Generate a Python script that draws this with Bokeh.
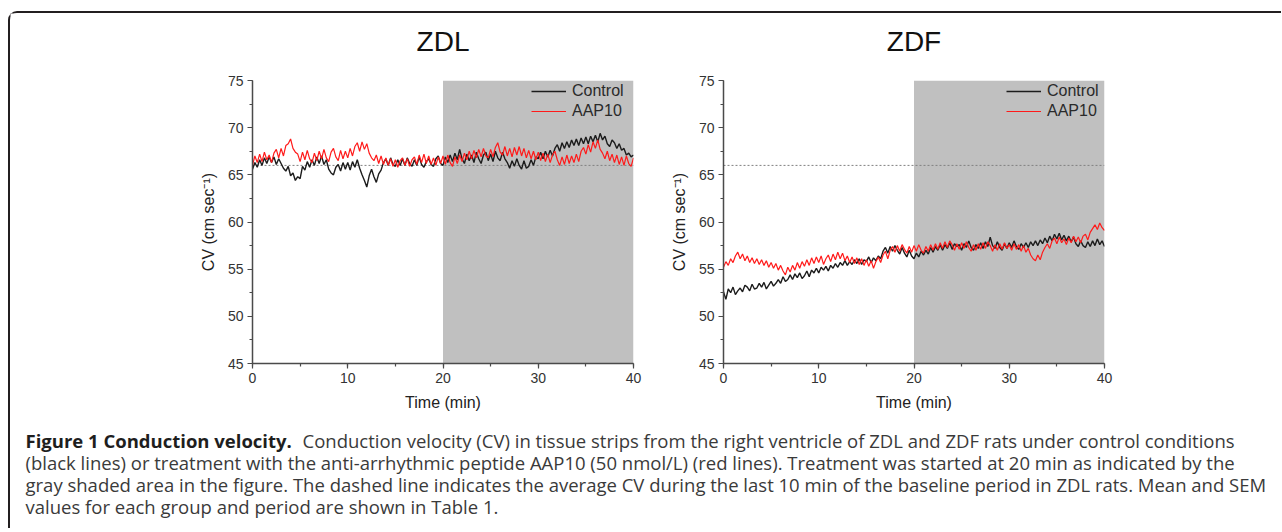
from bokeh.plotting import figure
from bokeh.models import (Range1d, BoxAnnotation, Span, Label, Legend, LegendItem,
                          SingleIntervalTicker)
from bokeh.layouts import row, column
from bokeh.embed import file_html
from bokeh.resources import INLINE

# ---------------- data (0.25 min resolution) ----------------
time_min = [i * 0.25 for i in range(161)]

zdl_control = [
    65.6, 66.3, 65.8, 66.6,  66.0, 66.8, 66.2, 66.9,  66.3, 66.9, 66.1, 66.7,
    66.2, 65.7, 65.4, 65.9,  64.9, 65.2, 64.4, 64.8,  64.6, 65.9, 65.5, 66.4,
    65.8, 66.6, 66.0, 66.9,  66.2, 67.0, 66.1, 66.6,  65.6, 65.2, 65.0, 65.8,
    66.1, 65.4, 66.3, 65.6,  66.3, 65.5, 66.4, 65.8,  66.6, 65.7, 65.0, 64.4,
    63.7, 64.9, 65.6, 64.8,  64.2, 65.1, 65.5, 66.3,  66.7, 66.0, 66.8, 66.1,
    65.9, 66.6, 66.0, 66.7,  66.0, 66.8, 66.2, 65.9,  66.6, 66.0, 66.9, 66.1,
    65.8, 66.4, 66.7, 66.1,  65.9, 66.7, 67.0, 66.2,  66.0, 66.9, 66.3, 67.1,
    66.4, 67.3, 66.6, 67.7,  66.7, 66.2, 67.2, 66.5,  67.1, 66.3, 67.4, 66.7,
    66.2, 67.1, 67.4, 66.5,  67.2, 66.4, 67.5, 66.8,  66.5, 67.4, 66.7, 66.3,
    65.7, 66.5, 65.9, 66.7,  66.0, 65.6, 66.5, 65.7,  65.9, 66.6, 66.0, 66.9,
    66.7, 67.4, 66.7, 67.5,  66.9, 67.6, 67.0, 67.8,  68.2, 67.5, 68.4, 67.8,
    68.5, 67.9, 68.7, 68.1,  68.8, 68.1, 68.9, 68.3,  69.0, 68.3, 69.1, 68.5,
    69.2, 68.5, 69.4, 68.7,  69.1, 68.3, 68.0, 68.7,  68.4, 67.8, 68.3, 67.6,
    67.8, 67.1, 67.3, 66.9,  67.1,
]

zdl_aap10 = [
    66.0, 67.0, 66.3, 67.2,  66.4, 67.4, 66.6, 67.1,  66.3, 67.3, 67.7, 66.8,
    67.8, 67.0, 68.1, 68.3,  68.8, 67.8, 67.4, 67.2,  66.4, 67.4, 66.6, 67.6,
    66.7, 66.3, 67.3, 66.5,  67.5, 66.7, 67.7, 66.8,  66.4, 67.4, 67.8, 66.9,
    66.5, 67.6, 66.7, 67.5,  66.8, 67.8, 67.0, 68.0,  68.4, 67.5, 68.5, 67.7,
    68.3, 67.3, 66.8, 66.5,  67.1, 66.2, 67.0, 66.1,  66.8, 66.0, 66.7, 65.9,
    66.6, 65.8, 66.5, 66.8,  66.0, 66.7, 65.9, 66.6,  66.9, 66.1, 67.1, 66.3,
    67.2, 66.2, 67.0, 66.1,  66.8, 66.0, 66.9, 66.2,  67.0, 66.1, 67.1, 66.3,
    65.9, 66.9, 66.2, 67.1,  66.4, 67.3, 66.6, 67.5,  66.7, 67.6, 66.8, 67.7,
    66.9, 67.8, 67.0, 66.8,  67.7, 66.9, 67.9, 68.4,  67.4, 67.1, 68.0, 67.0,
    67.8, 66.9, 67.9, 67.1,  68.0, 67.0, 67.8, 66.8,  67.6, 66.7, 67.5, 66.6,
    67.4, 66.5, 67.3, 66.4,  67.2, 66.3, 67.1, 67.5,  66.6, 66.0, 66.9, 66.1,
    67.1, 66.2, 67.0, 66.3,  67.2, 66.4, 67.5, 67.9,  67.2, 68.2, 67.4, 68.5,
    67.8, 68.7, 67.7, 67.3,  66.7, 67.5, 66.5, 67.2,  66.3, 67.1, 66.1, 66.9,
    66.0, 67.0, 66.2, 65.9,  66.8,
]

zdf_control = [
    52.6, 51.8, 52.9, 52.5,  53.1, 52.3, 52.7, 53.0,  52.6, 53.3, 53.1, 52.7,
    53.4, 52.9, 53.0, 53.5,  53.1, 53.6, 52.9, 53.3,  53.7, 53.2, 53.5, 53.9,
    53.5, 54.2, 53.7, 53.9,  54.4, 53.9, 54.5, 54.1,  54.6, 54.0, 54.3, 54.8,
    54.2, 54.9, 54.6, 55.1,  54.6, 55.2, 54.9, 55.3,  54.8, 55.4, 55.1, 55.6,
    55.2, 55.7, 55.4, 55.9,  55.4, 55.8, 55.5, 56.0,  55.6, 56.1, 55.5, 56.0,
    55.8, 56.3, 55.7, 56.2,  55.9, 56.4, 56.1, 56.9,  57.3, 56.7, 57.4, 56.9,
    57.5, 57.0, 56.6, 57.3,  56.7, 56.3, 57.0, 56.4,  56.1, 56.7, 56.3, 56.9,
    56.5, 57.0, 56.6, 57.3,  56.8, 57.4, 57.0, 57.6,  57.0, 57.6, 57.2, 57.8,
    57.1, 57.7, 57.4, 57.6,  57.0, 57.7, 57.3, 58.0,  57.3, 57.0, 57.6, 57.2,
    57.8, 57.2, 57.9, 57.4,  58.4, 57.5, 57.2, 57.9,  57.3, 57.0, 57.7, 57.2,
    57.8, 57.3, 58.0, 57.4,  57.1, 57.7, 57.3, 57.8,  57.3, 57.9, 57.5, 58.0,
    57.5, 58.1, 57.7, 58.3,  57.8, 58.5, 58.0, 58.7,  58.2, 58.8, 58.1, 58.6,
    58.0, 58.5, 57.9, 58.4,  57.7, 57.4, 58.0, 57.5,  57.3, 57.9, 57.4, 58.0,
    57.5, 58.2, 57.6, 58.0,  57.4,
]

zdf_aap10 = [
    55.2, 55.8, 55.4, 56.1,  55.7, 56.4, 56.8, 56.1,  56.6, 55.9, 56.4, 55.7,
    56.2, 55.6, 56.1, 55.5,  56.0, 55.4, 55.9, 55.2,  55.7, 55.1, 55.6, 54.9,
    55.4, 54.8, 54.4, 55.2,  54.7, 55.4, 54.9, 55.7,  55.1, 55.8, 55.3, 56.0,
    55.4, 56.2, 55.6, 56.3,  55.7, 56.4, 55.5, 56.1,  56.5, 55.8, 56.6, 56.0,
    56.8, 56.1, 56.7, 55.9,  56.4, 55.7, 56.3, 55.6,  56.2, 55.5, 56.1, 55.4,
    56.0, 55.3, 55.9, 55.1,  55.8, 56.3, 55.7, 56.5,  56.9, 56.1, 57.0, 57.4,
    56.8, 57.5, 56.9, 57.6,  57.1, 56.7, 57.4, 56.8,  57.5, 56.9, 57.6, 57.0,
    56.7, 57.4, 56.9, 57.6,  57.0, 57.7, 57.1, 57.8,  57.2, 57.9, 57.3, 58.0,
    57.6, 57.0, 57.7, 57.1,  57.8, 57.2, 57.9, 57.3,  56.9, 57.6, 57.0, 57.7,
    57.1, 57.8, 57.2, 57.9,  57.5, 56.9, 57.6, 57.0,  57.7, 57.1, 57.8, 57.2,
    57.6, 57.0, 57.7, 57.1,  57.6, 56.9, 57.5, 56.8,  57.2, 56.5, 56.1, 55.9,
    56.5, 56.0, 56.8, 57.3,  57.7, 57.2, 58.0, 58.3,  57.7, 58.4, 57.8, 58.2,
    57.6, 58.3, 57.8, 58.5,  57.9, 58.4, 57.8, 58.5,  58.7, 58.1, 58.9, 59.3,
    59.7, 59.2, 59.9, 59.4,  59.1,
]

baseline_cv = 66.0           # mean CV, last 10 min of ZDL baseline (dashed line)
treatment_window = (20, 40)  # gray shaded area
panel_titles = ["ZDL", "ZDF"]
series_names = ["Control", "AAP10"]
x_label = "Time (min)"
y_label = "CV (cm sec\u207b\u00b9)"

caption_bold = "Figure 1 Conduction velocity."
caption_lines = [
    "Conduction velocity (CV) in tissue strips from the right ventricle of ZDL and ZDF rats under control conditions",
    "(black lines) or treatment with the anti-arrhythmic peptide AAP10 (50 nmol/L) (red lines). Treatment was started at 20 min as indicated by the",
    "gray shaded area in the figure. The dashed line indicates the average CV during the last 10 min of the baseline period in ZDL rats. Mean and SEM",
    "values for each group and period are shown in Table 1.",
]

# ---------------- styling ----------------
AX_COL = "#4a4a4a"
FONT = "Liberation Sans"
TITLE_H = 60
FIG_H = 403 - TITLE_H
FRAME_W, FRAME_H = 381, 283
TOTAL_W = 1264


def make_panel(control, aap10, width, left, right, legend_x):
    p = figure(width=width, height=FIG_H, x_range=Range1d(0, 40), y_range=Range1d(45, 75),
               output_backend="svg", toolbar_location=None, title=None,
               min_border_left=left, min_border_right=right,
               min_border_top=67 - TITLE_H, min_border_bottom=53)
    p.outline_line_color = None
    p.grid.visible = False
    p.background_fill_color = "white"
    p.border_fill_color = "white"

    p.add_layout(BoxAnnotation(left=treatment_window[0], right=treatment_window[1],
                               fill_color="#c0c0c0", fill_alpha=1.0, line_color=None,
                               level="underlay"))
    p.add_layout(Span(location=baseline_cv, dimension="width", line_color="#808080",
                      line_dash="2 2", line_width=1, level="underlay"))

    r_ctl = p.line(time_min, control, line_color="#1c1c1c", line_width=1.4)
    r_aap = p.line(time_min, aap10, line_color="#ff1a1a", line_width=1.2)

    legend = Legend(items=[LegendItem(label=series_names[0], renderers=[r_ctl]),
                           LegendItem(label=series_names[1], renderers=[r_aap])],
                    location=(legend_x, FRAME_H - 1 - 40),
                    background_fill_alpha=0, border_line_color=None,
                    padding=0, margin=0, spacing=0,
                    glyph_width=35, glyph_height=20, label_height=20,
                    label_standoff=6,
                    label_text_font=FONT, label_text_font_size="16px",
                    label_text_color="#2a2a2a")
    p.add_layout(legend)

    p.xaxis.ticker = SingleIntervalTicker(interval=10, num_minor_ticks=2)
    p.yaxis.ticker = SingleIntervalTicker(interval=5, num_minor_ticks=2)
    p.xaxis.axis_label = x_label
    p.yaxis.axis_label = y_label
    for ax in (p.xaxis, p.yaxis):
        ax.axis_line_color = AX_COL
        ax.axis_line_width = 1.5
        ax.major_tick_line_color = AX_COL
        ax.minor_tick_line_color = AX_COL
        ax.major_tick_line_width = 1.2
        ax.minor_tick_line_width = 1.2
        ax.major_tick_out = 5
        ax.major_tick_in = 0
        ax.minor_tick_out = 3
        ax.minor_tick_in = 0
        ax.major_label_standoff = 4
        ax.major_label_text_font = FONT
        ax.major_label_text_font_size = "14px"
        ax.major_label_text_color = "#333333"
        ax.axis_label_text_font = FONT
        ax.axis_label_text_font_size = "16px"
        ax.axis_label_text_font_style = "normal"
        ax.axis_label_text_color = "#222222"
        ax.axis_label_standoff = 8
    return p


P1_W, P1_LEFT = 640, 242
P2_LEFT = 73
p1 = make_panel(zdl_control, zdl_aap10, P1_W, P1_LEFT, P1_W - P1_LEFT - FRAME_W, 279)
p2 = make_panel(zdf_control, zdf_aap10, TOTAL_W - P1_W, P2_LEFT,
                TOTAL_W - P1_W - P2_LEFT - FRAME_W, 283)

# ---------------- panel titles (strip above the two panels) ----------------
strip = figure(width=TOTAL_W, height=TITLE_H, x_range=Range1d(0, 1), y_range=Range1d(0, 1),
               output_backend="svg", toolbar_location=None, min_border=0, title=None,
               x_axis_location=None, y_axis_location=None)
strip.grid.visible = False
strip.outline_line_color = None
strip.background_fill_color = "white"
strip.border_fill_color = "white"
title_centers = [P1_LEFT + FRAME_W / 2, P1_W + P2_LEFT + FRAME_W / 2]
for ttl, xc in zip(panel_titles, title_centers):
    strip.add_layout(Label(x=xc, y=32, x_units="screen", y_units="screen", text=ttl,
                           text_align="center", text_baseline="alphabetic",
                           text_font=FONT, text_font_size="28px", text_color="#111111"))

# ---------------- caption ----------------
CAP_W, CAP_H = 1271, 112
cap = figure(width=CAP_W, height=CAP_H, x_range=Range1d(0, 1), y_range=Range1d(0, 1),
             output_backend="svg", toolbar_location=None, min_border=0, title=None,
             x_axis_location=None, y_axis_location=None)
cap.grid.visible = False
cap.outline_line_color = None
cap.background_fill_color = "white"
cap.border_fill_color = "white"

CAP_FONT = "Open Sans"
CAP_SIZE = "18.5px"
baselines = [88, 66, 44, 22]
cap.add_layout(Label(x=15, y=baselines[0], x_units="screen", y_units="screen",
                     text=caption_bold, text_font=CAP_FONT, text_font_size=CAP_SIZE,
                     text_font_style="bold", text_color="#1e1e1e",
                     text_baseline="alphabetic"))
cap.add_layout(Label(x=292, y=baselines[0], x_units="screen", y_units="screen",
                     text=caption_lines[0], text_font=CAP_FONT, text_font_size=CAP_SIZE,
                     text_color="#3a3a3a", text_baseline="alphabetic"))
for txt, yb in zip(caption_lines[1:], baselines[1:]):
    cap.add_layout(Label(x=15, y=yb, x_units="screen", y_units="screen",
                         text=txt, text_font=CAP_FONT, text_font_size=CAP_SIZE,
                         text_color="#3a3a3a", text_baseline="alphabetic"))

layout = column(strip, row(p1, p2), cap,
                styles={"border-top": "2px solid #231f20",
                        "border-left": "2px solid #231f20",
                        "border-top-left-radius": "9px",
                        "margin-top": "11px",
                        "margin-left": "8px"})

open("out.html", "w").write(file_html(layout, INLINE))
